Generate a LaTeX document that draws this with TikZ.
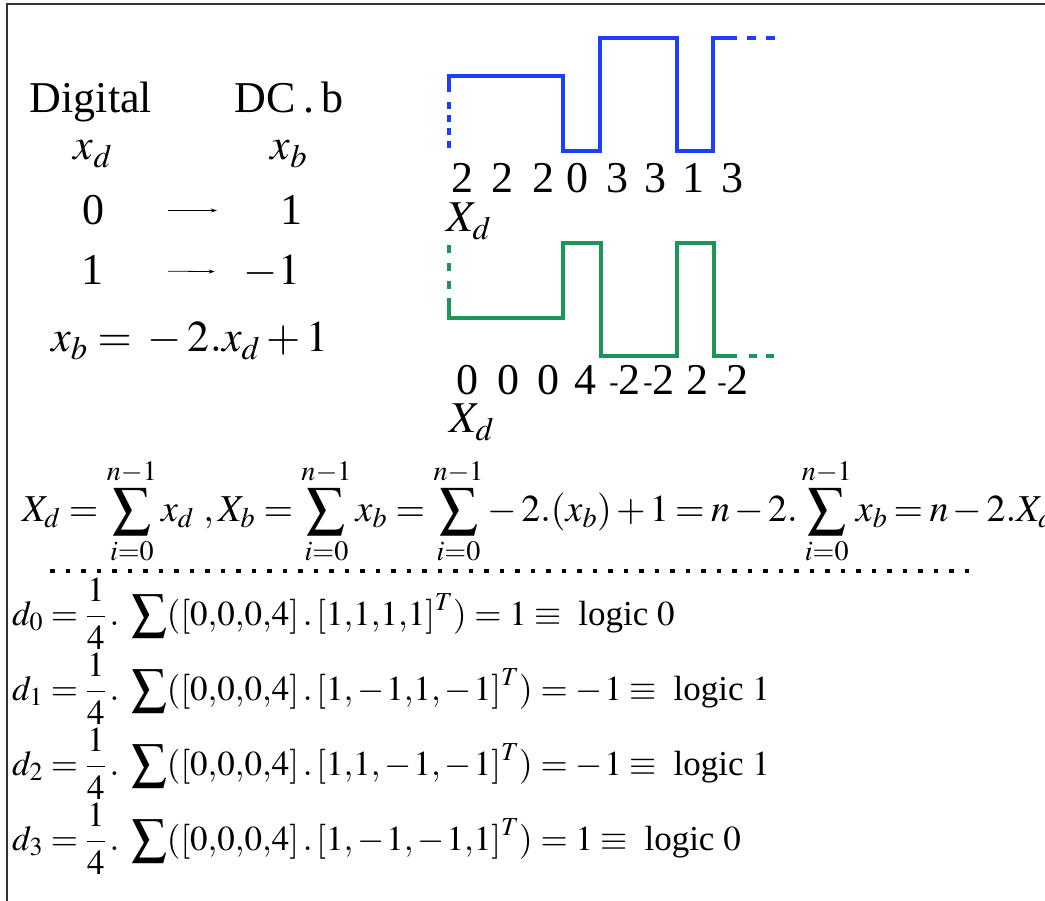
\documentclass[tikz,border=0pt]{standalone}
\usepackage{amsmath}
\usepackage{mathptmx}
\usepackage[no-math]{fontspec}
\setmainfont{Liberation Serif}
\usepackage{tikz}
\usetikzlibrary{arrows.meta}

\definecolor{waveblue}{RGB}{30,62,255}
\definecolor{wavegreen}{RGB}{28,150,88}
\newcommand{\negtwo}{\raisebox{3pt}{\fontsize{28}{28}\selectfont -}2}
\newcommand{\nm}{\mkern0mu{-}\mkern1mu}

\begin{document}
\begin{tikzpicture}[x=1pt, y=-1pt, >={Stealth[length=6pt,width=4pt]},
  big/.style={inner sep=0pt, anchor=base, font=\fontsize{44}{50}\selectfont},
  eqn/.style={inner sep=0pt, anchor=base west, font=\fontsize{38}{44}\selectfont},
  drow/.style={inner sep=0pt, anchor=base west, font=\fontsize{35}{40}\selectfont},
  map/.style={->, line width=0.8pt},
  bluewave/.style={waveblue, line width=4.5pt},
  greenwave/.style={wavegreen, line width=3.5pt},
  frame/.style={line width=2pt, black!80}]
\useasboundingbox (0,0) rectangle (1045,901);
\draw[frame] (7,901) -- (7,4) -- (1045,4);

% mapping table
\node[big] (digital) at (91,113) {Digital};
\node[big] (dcb) at (289,113) {DC\,.\,b};
\node[big] (xd) at (93,160) {$x_d$};
\node[big] (xb) at (289,160) {$x_b$};
\node[big] (zero) at (93,225) {0};
\node[big] (one) at (291,225) {1};
\node[big] (oneb) at (92,285) {1};
\node[big] (mone) at (272,285) {$-1$};
\draw[map, shorten <=64pt, shorten >=63pt] (zero) -- (one);
\draw[map, shorten <=65pt, shorten >=29pt] (oneb) -- (mone);
\node[big] (rule) at (190,352) {$x_b = {}-{}2.x_d + 1$};

% decimal sequence
\draw[bluewave, dash pattern=on 7pt off 6pt] (449,148) -- (449,98);
\draw[bluewave] (449,92) -- (449,76) -- (563,76) -- (563,151) -- (600,151) -- (600,38)
  -- (677,38) -- (677,151) -- (713,151) -- (713,38) -- (737,38);
\draw[bluewave, dash pattern=on 9pt off 10pt] (747,38) -- (777,38);
\foreach \x/\v [count=\i] in {462/2, 502/2, 543/2, 577/0, 617/3, 655/3, 693/1, 732/3}
  \node[big] (s\i) at (\x,193) {\v};
\node[big] (labd) at (469,232) {$X_d$};

% bipolar sequence
\draw[greenwave, dash pattern=on 8pt off 10pt] (449,245) -- (449,293);
\draw[greenwave] (449,298) -- (449,318) -- (563,318) -- (563,243) -- (601,243) -- (601,356)
  -- (677,356) -- (677,243) -- (714,243) -- (714,356) -- (737,356);
\draw[greenwave, dash pattern=on 8pt off 9pt] (749,356) -- (777,356);
\foreach \x/\v [count=\i] in {467/0, 508/0, 548/0, 585/4, 625/\negtwo, 659/\negtwo, 697/2, 733/\negtwo}
  \node[big] (b\i) at (\x,395) {\v};
\node[big] (labb) at (472,433) {$X_d$};

% sums
\node[eqn] (sums) at (22,521) {$X_d = \displaystyle\sum_{i=0}^{n-1} x_d\ , X_b = \sum_{i=0}^{n-1} x_b = \sum_{i=0}^{n-1}{-}\mkern2mu 2.(x_b)\mkern2mu{+}\mkern2mu1\mkern3mu{=}\mkern3mu n\mkern2mu{-}\mkern2mu2.\sum_{i=0}^{n-1} x_b\mkern3mu{=}\mkern3mu n\mkern2mu{-}\mkern2mu2.X_d$};
\draw[line width=4.5pt, dash pattern=on 4.5pt off 11pt] (50,571) -- (978,571);

% decoding
\node[drow] (d0) at (12,625) {$\displaystyle d_0 = \frac{1}{4}\,.\;\sum ([0{,}0{,}0{,}4]\,.\,[1{,}1{,}1{,}1]^T) = 1 \equiv\ \text{logic}\ 0$};
\node[drow] (d1) at (12,700) {$\displaystyle d_1 = \frac{1}{4}\,.\;\sum ([0{,}0{,}0{,}4]\,.\,[1,\nm1{,}1,\nm1]^T) = {-}\mkern1mu1 \equiv\ \text{logic}\ 1$};
\node[drow] (d2) at (12,775) {$\displaystyle d_2 = \frac{1}{4}\,.\;\sum ([0{,}0{,}0{,}4]\,.\,[1{,}1,\nm1,\nm1]^T) = {-}\mkern1mu1 \equiv\ \text{logic}\ 1$};
\node[drow] (d3) at (12,850) {$\displaystyle d_3 = \frac{1}{4}\,.\;\sum ([0{,}0{,}0{,}4]\,.\,[1,\nm1,\nm1{,}1]^T) = 1 \equiv\ \text{logic}\ 0$};
\end{tikzpicture}
\end{document}
